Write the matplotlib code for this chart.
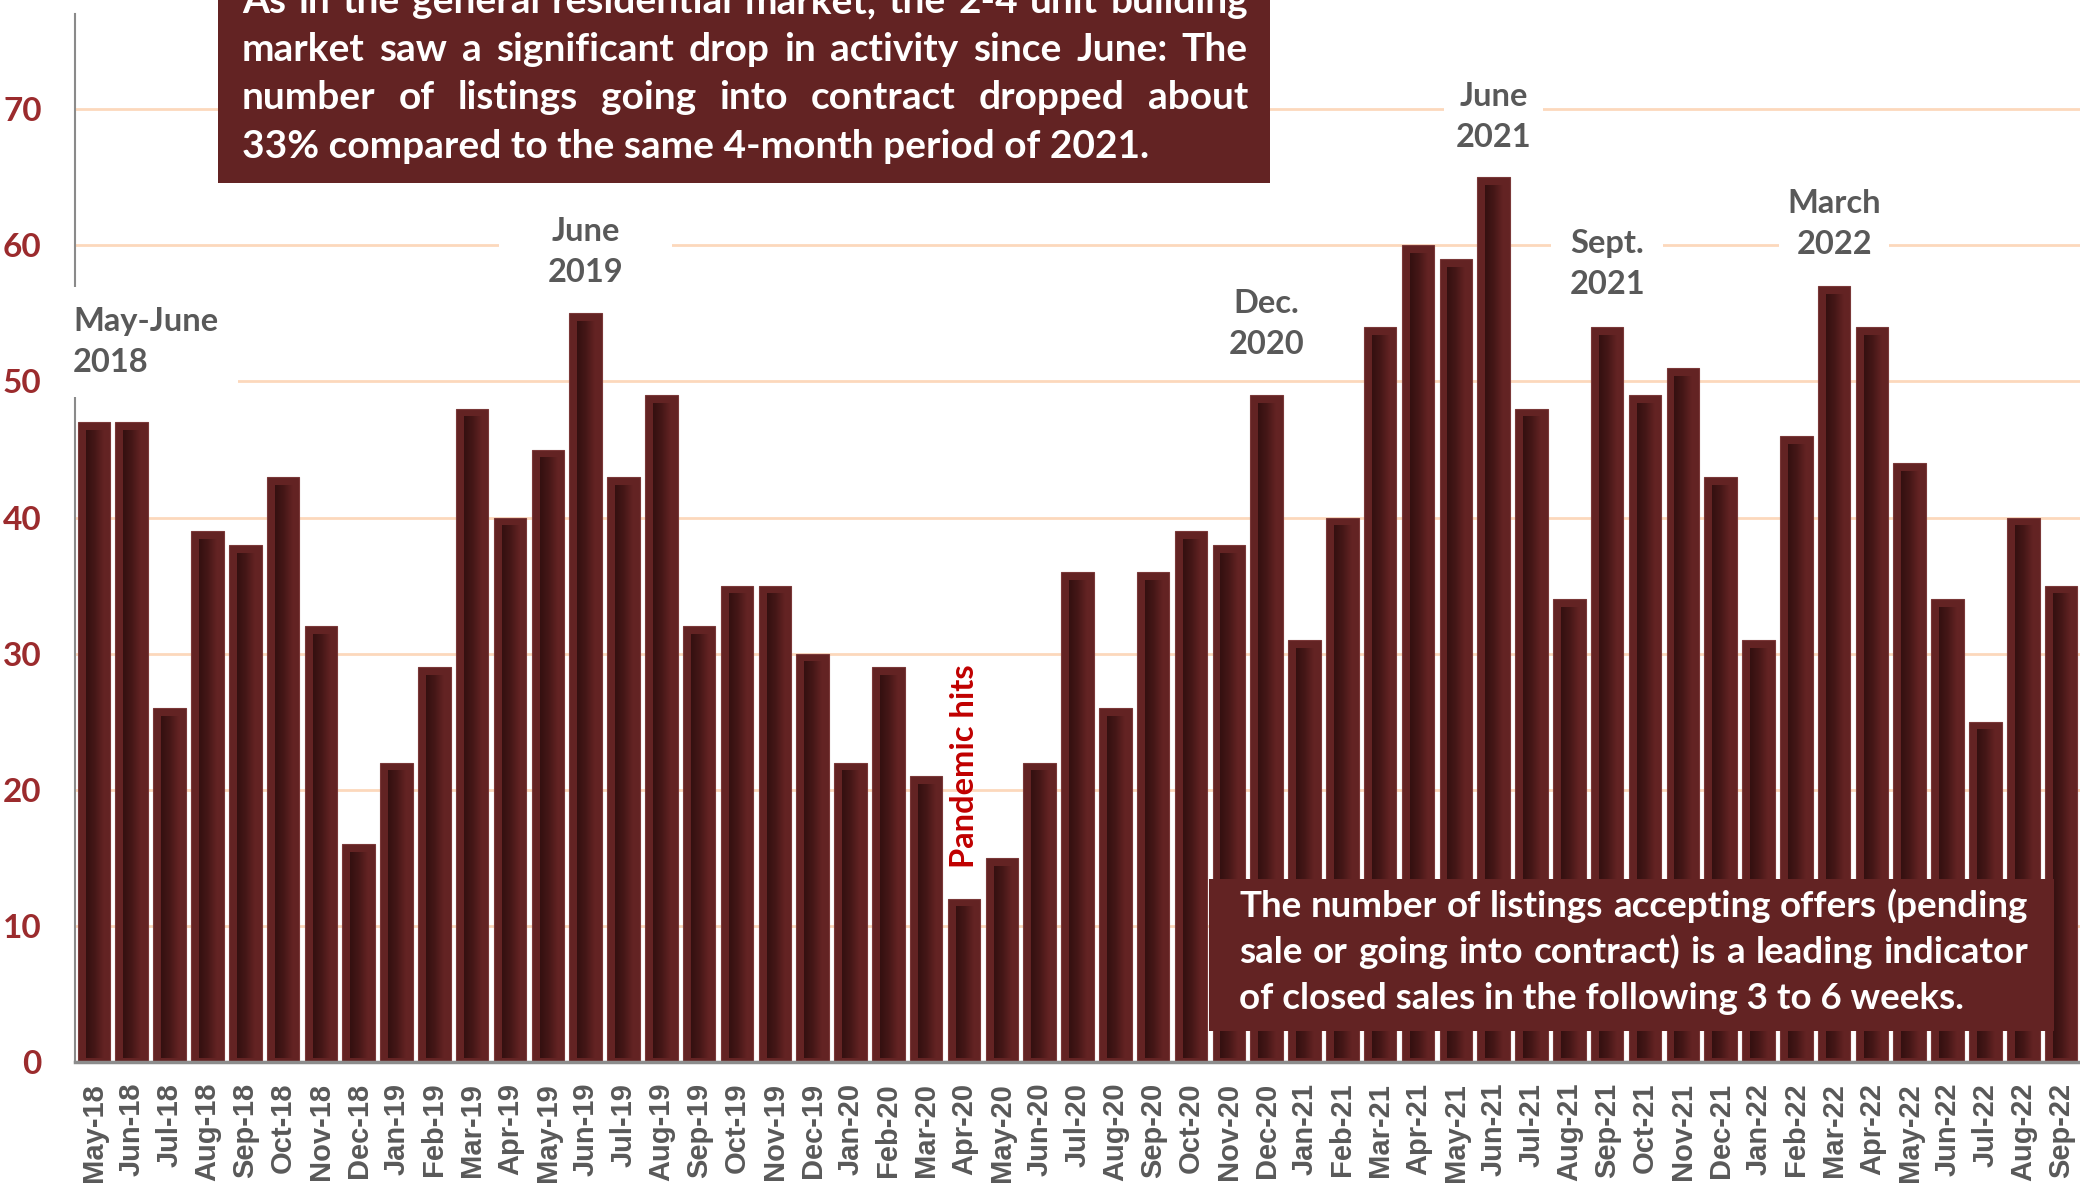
import matplotlib
matplotlib.use("Agg")
import matplotlib.pyplot as plt
import numpy as np
from matplotlib.colors import LinearSegmentedColormap
from matplotlib.font_manager import FontProperties
from matplotlib.patches import Rectangle

# monthly counts of 2-4 unit listings going into contract
months = ["May-18", "Jun-18", "Jul-18", "Aug-18", "Sep-18", "Oct-18", "Nov-18", "Dec-18",
          "Jan-19", "Feb-19", "Mar-19", "Apr-19", "May-19", "Jun-19", "Jul-19", "Aug-19",
          "Sep-19", "Oct-19", "Nov-19", "Dec-19",
          "Jan-20", "Feb-20", "Mar-20", "Apr-20", "May-20", "Jun-20", "Jul-20", "Aug-20",
          "Sep-20", "Oct-20", "Nov-20", "Dec-20",
          "Jan-21", "Feb-21", "Mar-21", "Apr-21", "May-21", "Jun-21", "Jul-21", "Aug-21",
          "Sep-21", "Oct-21", "Nov-21", "Dec-21",
          "Jan-22", "Feb-22", "Mar-22", "Apr-22", "May-22", "Jun-22", "Jul-22", "Aug-22",
          "Sep-22"]
pending = [47, 47, 26, 39, 38, 43, 32, 16,
           22, 29, 48, 40, 45, 55, 43, 49, 32, 35, 35, 30,
           22, 29, 21, 12, 15, 22, 36, 26, 36, 39, 38, 49,
           31, 40, 54, 60, 59, 65, 48, 34, 54, 49, 51, 43,
           31, 46, 57, 54, 44, 34, 25, 40, 35]
yticks = [0, 10, 20, 30, 40, 50, 60, 70]

# peak labels: text, bar index, y position, alignment, box padding
callouts = [
    ("May-June\n2018", -0.55, 52.9, "left", 0.6),
    ("June\n2019", 13, 59.5, "center", 1.5),
    ("Dec.\n2020", 31, 54.2, "center", 0.2),
    ("June\n2021", 37, 69.4, "center", 0.35),
    ("Sept.\n2021", 40, 58.6, "center", 0.55),
    ("March\n2022", 46, 61.6, "center", 0.25),
]

top_note = ["As in the general residential market, the 2-4 unit building",
            "market saw a significant drop in activity since June: The",
            "number of listings going into contract dropped about",
            "33% compared to the same 4-month period of 2021."]
bottom_note = ["The number of listings accepting offers (pending",
               "sale or going into contract) is a leading indicator",
               "of closed sales in the following 3 to 6 weeks."]

W, H = 2080, 1192
BAR = "#632323"
DARK = "#341010"
GREY = "#595959"

fig = plt.figure(figsize=(W / 100, H / 100), dpi=100)
ax = fig.add_axes([75 / W, 1 - 1062 / H, 1 - 75 / W, (1062 - 14) / H])

x = np.arange(len(months))
bw = 0.86
vals = np.array(pending, dtype=float)
ax.bar(x, vals, width=bw, color=BAR, edgecolor="#7a3838", linewidth=0.8, zorder=2)

# bevelled inner shading on each bar
shade = LinearSegmentedColormap.from_list("shade", [DARK, "#461717", BAR])
grad = np.linspace(0, 1, 64).reshape(1, -1)
for xi, v in zip(x, vals):
    ax.imshow(grad, cmap=shade, aspect="auto", interpolation="bilinear",
              extent=[xi - bw / 2 + 0.21, xi + bw / 2 - 0.19, 0.3, v - 0.6],
              zorder=2.1)

ax.set_xlim(-0.5, len(months) - 0.5)
ax.set_ylim(0, 77)
ax.set_xticks(x)
ax.set_xticklabels(months, rotation=90, fontsize=21, fontweight="bold",
                   family="Liberation Sans", color=GREY)
ax.set_yticks(yticks)
ax.set_yticklabels([str(t) for t in yticks], fontsize=24, fontweight="bold",
                   family="Lato", color="#9b2b2d")
ax.tick_params(axis="x", length=0, pad=15)
ax.tick_params(axis="y", length=0, pad=24)

ax.set_axisbelow(True)
ax.grid(axis="y", color="#fcd8bc", linewidth=2, zorder=0.5)
ax.grid(axis="x", visible=False)
for s in ["top", "right"]:
    ax.spines[s].set_visible(False)
ax.spines["left"].set_color("#8a8a8a")
ax.spines["left"].set_linewidth(1.5)
ax.spines["left"].set_zorder(0.8)
ax.spines["bottom"].set_color("#8c8c8c")
ax.spines["bottom"].set_linewidth(2.5)
ax.spines["bottom"].set_zorder(3)

for label, xi, yi, ha, pad in callouts:
    ax.text(xi, yi, label, ha=ha, va="center", fontsize=23.5, fontweight="bold",
            family="Lato", color=GREY, linespacing=1.5, zorder=1,
            bbox=dict(boxstyle=f"square,pad={pad}", fc="white", ec="none"))

ax.text(23, 21.7, "Pandemic hits", rotation=90, ha="center", va="center",
        fontsize=23.5, fontweight="bold", family="Lato", color="#c00000", zorder=1)

# note boxes drawn over the plot
renderer = fig.canvas.get_renderer()


def text_width(s, prop):
    return renderer.get_text_width_height_descent(s, prop, ismath=False)[0]


def fit_size(line, width):
    p = FontProperties(family="Lato", weight="bold", size=10)
    return 10 * width / text_width(line, p)


def note(lines, x0, x1, centers, size, justify_last=False):
    prop = FontProperties(family="Lato", weight="bold", size=size)
    em = size * 100 / 72
    for i, (line, yc) in enumerate(zip(lines, centers)):
        yb = 1 - (yc + 0.34 * em) / H
        words = line.split()
        if i == len(lines) - 1 and not justify_last:
            fig.text(x0 / W, yb, line, fontproperties=prop, color="white",
                     ha="left", va="baseline", zorder=5)
            continue
        widths = [text_width(w, prop) for w in words]
        gap = (x1 - x0 - sum(widths)) / (len(words) - 1)
        xp = x0
        for w, wd in zip(words, widths):
            fig.text(xp / W, yb, w, fontproperties=prop, color="white",
                     ha="left", va="baseline", zorder=5)
            xp += wd + gap


fig.add_artist(Rectangle((218 / W, 1 - 183 / H), (1270 - 218) / W, 200 / H,
                         transform=fig.transFigure, fc=BAR, ec="none", zorder=4))
top_size = fit_size(top_note[-1], 909)
note(top_note, 242, 1248, [0, 48, 96, 145], top_size)

fig.add_artist(Rectangle((1209 / W, 1 - 1031 / H), (2054 - 1209) / W, (1031 - 879) / H,
                         transform=fig.transFigure, fc=BAR, ec="none", zorder=4))
bot_size = fit_size(bottom_note[0], 789)
note(bottom_note, 1239, 2028, [905, 951, 997], bot_size)

fig.savefig("out.png", dpi=100)
